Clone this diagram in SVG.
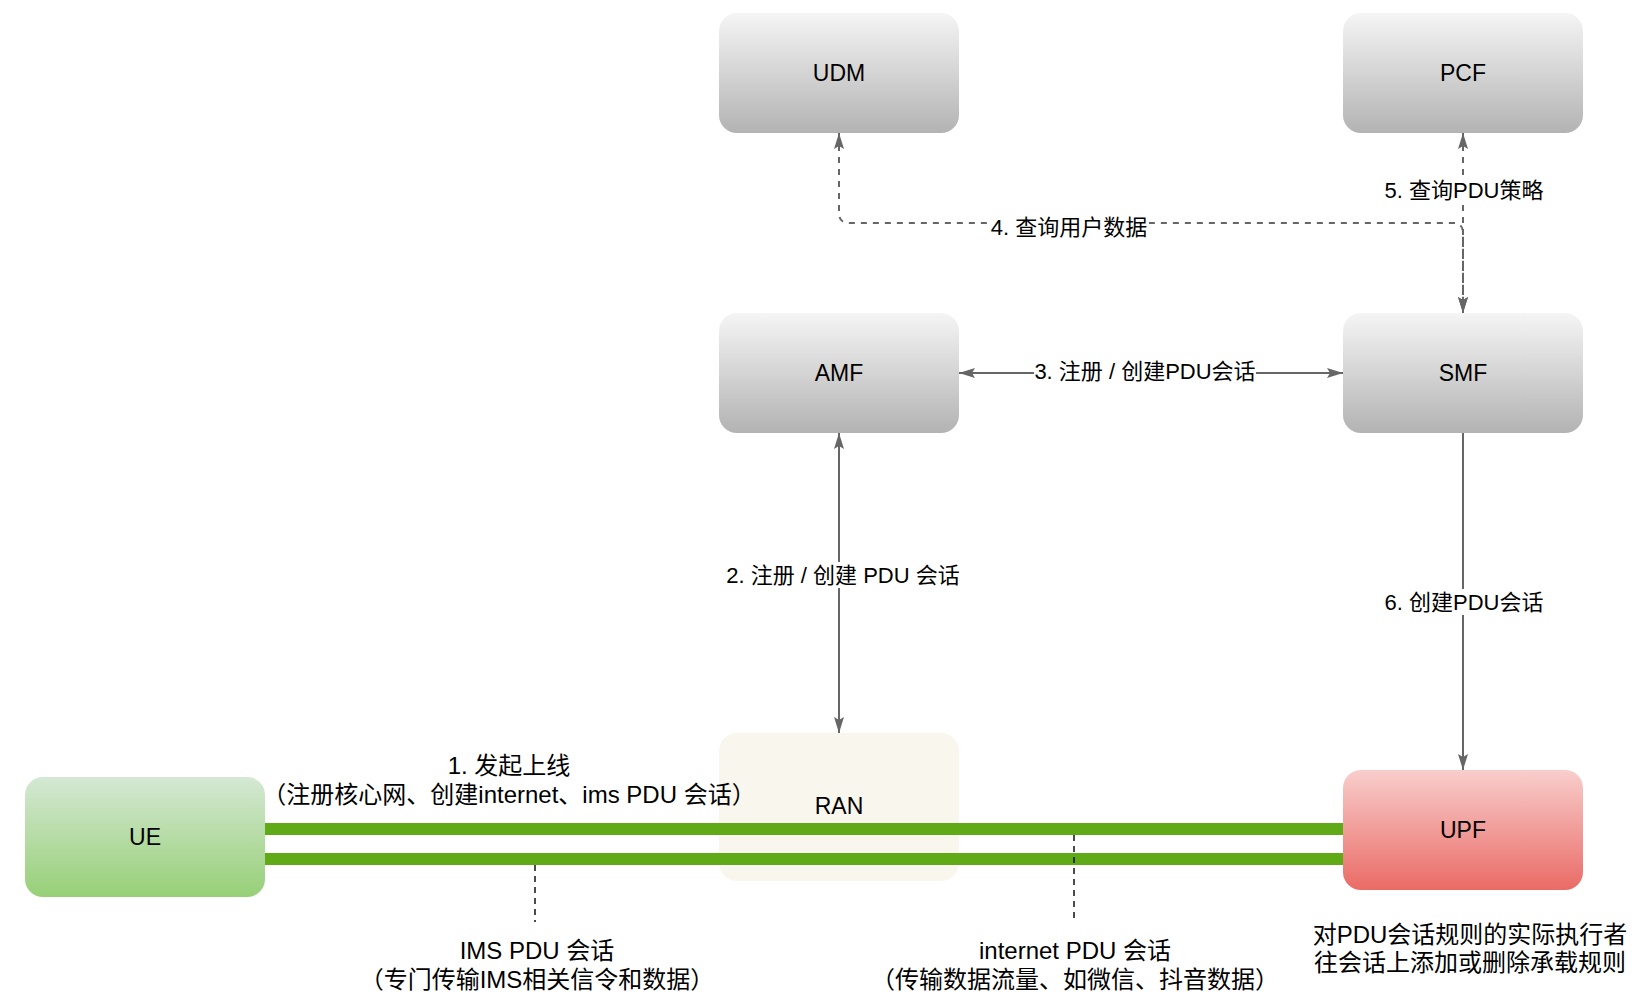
<svg xmlns="http://www.w3.org/2000/svg" width="1644" height="998" viewBox="0 0 1644 998">
<style>
text{font-family:"Liberation Sans","Noto Sans CJK SC",sans-serif;fill:#000;dominant-baseline:central;text-anchor:middle}
.n{font-size:23px}
.l{font-size:22px}
.a{font-size:24px}
.edge{fill:none;stroke:#666666;stroke-width:2}
.dash{stroke-dasharray:6 6}
.lead{fill:none;stroke:#111;stroke-width:1.5;stroke-dasharray:6 5}
.pipe{fill:#60a917}
.bg{fill:#ffffff}
</style>
<defs>
<linearGradient id="gGray" x1="0" y1="0" x2="0" y2="1"><stop offset="0" stop-color="#f5f5f5"/><stop offset="1" stop-color="#b3b3b3"/></linearGradient>
<linearGradient id="gGreen" x1="0" y1="0" x2="0" y2="1"><stop offset="0" stop-color="#d5e8d4"/><stop offset="1" stop-color="#97d077"/></linearGradient>
<linearGradient id="gRed" x1="0" y1="0" x2="0" y2="1"><stop offset="0" stop-color="#f8cecc"/><stop offset="1" stop-color="#ea6b66"/></linearGradient>
<marker id="arr" viewBox="0 0 16 10" refX="16" refY="5" markerWidth="16" markerHeight="10" markerUnits="userSpaceOnUse" orient="auto-start-reverse">
<path d="M0,0 L16,5 L0,10 L3,5 z" fill="#666666"/>
</marker>
</defs>

<g id="RAN"><rect x="719" y="733" width="240" height="148" rx="18" fill="#f9f7ed"/><text class="n" x="839" y="806">RAN</text></g>

<g id="pipes">
<rect class="pipe" x="265" y="823" width="1079" height="12"/>
<rect class="pipe" x="265" y="853" width="1079" height="12"/>
</g>

<g id="UDM"><rect x="719" y="13" width="240" height="120" rx="18" fill="url(#gGray)"/><text class="n" x="839" y="73">UDM</text></g>
<g id="PCF"><rect x="1343" y="13" width="240" height="120" rx="18" fill="url(#gGray)"/><text class="n" x="1463" y="73">PCF</text></g>
<g id="AMF"><rect x="719" y="313" width="240" height="120" rx="18" fill="url(#gGray)"/><text class="n" x="839" y="373">AMF</text></g>
<g id="SMF"><rect x="1343" y="313" width="240" height="120" rx="18" fill="url(#gGray)"/><text class="n" x="1463" y="373">SMF</text></g>
<g id="UE"><rect x="25" y="777" width="240" height="120" rx="18" fill="url(#gGreen)"/><text class="n" x="145" y="837">UE</text></g>
<g id="UPF"><rect x="1343" y="770" width="240" height="120" rx="18" fill="url(#gRed)"/><text class="n" x="1463" y="830">UPF</text></g>

<g id="connectors">
<path class="edge dash" d="M839,133 V213 Q839,223 849,223 H1453 Q1463,223 1463,233 V313" marker-start="url(#arr)" marker-end="url(#arr)"/>
<path class="edge dash" d="M1463,133 V313" marker-start="url(#arr)" marker-end="url(#arr)"/>
<path class="edge" d="M959,373 H1343" marker-start="url(#arr)" marker-end="url(#arr)"/>
<path class="edge" d="M839,433 V733" marker-start="url(#arr)" marker-end="url(#arr)"/>
<path class="edge" d="M1463,433 V770" marker-end="url(#arr)"/>
<path class="lead" d="M535,865 V922"/>
<path class="lead" d="M1074,835 V922"/>

<rect class="bg" x="989" y="213" width="160" height="26"/>
<text class="l" x="1069" y="227">4. 查询用户数据</text>
<rect class="bg" x="1384" y="177" width="160" height="26"/>
<text class="l" x="1464" y="190">5. 查询PDU策略</text>
<rect class="bg" x="1034" y="358" width="222" height="26"/>
<text class="l" x="1145" y="371">3. 注册 / 创建PDU会话</text>
<rect class="bg" x="726" y="562" width="234" height="26"/>
<text class="l" x="843" y="575">2. 注册 / 创建 PDU 会话</text>
<rect class="bg" x="1384" y="589" width="160" height="26"/>
<text class="l" x="1464" y="602">6. 创建PDU会话</text>
</g>

<g id="notes">
<text class="a" x="509" y="765">1. 发起上线</text>
<text class="a" x="509" y="794">（注册核心网、创建internet、ims PDU 会话）</text>
<text class="a" x="537" y="950">IMS PDU 会话</text>
<text class="a" x="537" y="979">（专门传输IMS相关信令和数据）</text>
<text class="a" x="1075" y="950">internet PDU 会话</text>
<text class="a" x="1075" y="979">（传输数据流量、如微信、抖音数据）</text>
<text class="a" x="1470" y="934">对PDU会话规则的实际执行者</text>
<text class="a" x="1470" y="962">往会话上添加或删除承载规则</text>
</g>
</svg>
